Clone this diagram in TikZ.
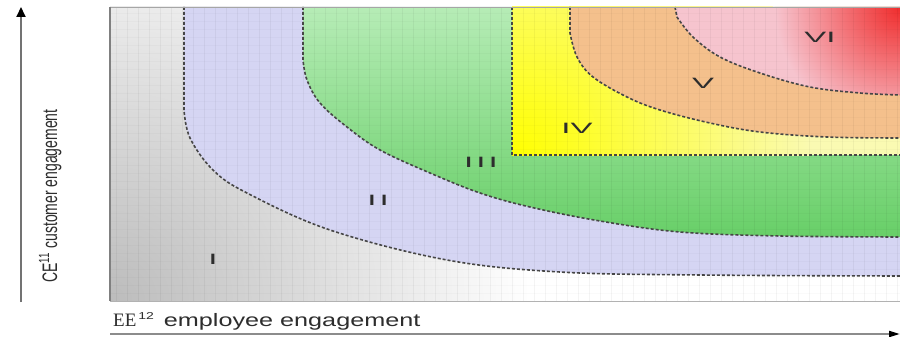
\documentclass[tikz,border=0pt]{standalone}
\usepackage{fontspec}
\setmainfont{Liberation Sans}
\newfontfamily\serifE{Liberation Serif}
\usetikzlibrary{arrows.meta}
\definecolor{bgA}{RGB}{188,188,188}
\definecolor{lav}{RGB}{213,213,243}
\definecolor{grnT}{RGB}{182,236,182}
\definecolor{grnB}{RGB}{104,207,104}
\definecolor{yelA}{RGB}{255,255,0}
\definecolor{yelB}{RGB}{250,250,178}
\definecolor{orn}{RGB}{244,192,140}
\definecolor{pnkA}{RGB}{240,45,45}
\definecolor{pnkB}{RGB}{246,196,206}
\definecolor{bdc}{RGB}{70,70,70}
\definecolor{lbl}{RGB}{45,45,45}
\newcommand\romlab[1]{\scalebox{2.2}[1]{\fontsize{15}{15}\selectfont #1}}
\begin{document}
\begin{tikzpicture}[x=1pt,y=-1pt,
  bdry/.style={draw=bdc,line width=1.6pt,dash pattern=on 3pt off 2pt},
  gridv/.style={draw=black,opacity=0.045,line width=0.8pt},
  gridh/.style={draw=black,opacity=0.02,line width=0.7pt},
  numlbl/.style={text=lbl,inner sep=0pt},
  axisline/.style={draw=black!55,line width=2pt}]
\useasboundingbox (0,0) rectangle (900,337);
\fill[white] (0,0) rectangle (900,337);
% background
\begin{scope}
  \clip (110,7) rectangle (900,301);
  \fill[white] (110,7) rectangle (900,301);
  \shade[inner color=bgA, outer color=white] (110,301) circle (420pt);
\end{scope}
% region II
\fill[lav] (184,7) -- plot[smooth,tension=0.6] coordinates {(184,110) (190,138) (213,170) (247,193) (330,230) (447,260) (560,272) (700,275) (900,276)} -- (900,7) -- cycle;
% region III
\shade[top color=grnT, bottom color=grnB] (303,7) -- plot[smooth,tension=0.6] coordinates {(303,60) (307,80) (320,103) (347,127) (380,150) (430,173) (480,193) (530,207) (600,221) (680,232) (780,236) (900,237)} -- (900,7) -- cycle;
% region IV
\begin{scope}
  \clip (512,7) rectangle (900,155);
  \fill[yelB] (512,7) rectangle (900,155);
  \shade[inner color=yelA, outer color=yelB] (512,155) circle (300pt);
\end{scope}
% region V
\fill[orn] (570,7) -- plot[smooth,tension=0.6] coordinates {(570,33) (577,57) (593,77) (627,97) (660,110) (710,123) (760,132) (827,137) (900,138)} -- (900,7) -- cycle;
% region VI
\begin{scope}
  \clip (675,7) -- plot[smooth,tension=0.6] coordinates {(677,17) (693,37) (720,57) (760,73) (810,87) (860,93) (900,95)} -- (900,7) -- cycle;
  \fill[pnkB] (675,7) rectangle (900,100);
  \shade[inner color=pnkA, outer color=pnkB] (900,7) circle (125pt);
\end{scope}
% grid texture
\foreach \gx in {116,127,...,900} \draw[gridv] (\gx,7) -- (\gx,301);
\foreach \gy in {13,21,...,300} \draw[gridh] (110,\gy) -- (900,\gy);
% dashed boundaries
\draw[bdry] (184,7) -- plot[smooth,tension=0.6] coordinates {(184,110) (190,138) (213,170) (247,193) (330,230) (447,260) (560,272) (700,275) (900,276)};
\draw[bdry] (303,7) -- plot[smooth,tension=0.6] coordinates {(303,60) (307,80) (320,103) (347,127) (380,150) (430,173) (480,193) (530,207) (600,221) (680,232) (780,236) (900,237)};
\draw[bdry] (512,7) -- (512,155) -- (900,155);
\draw[bdry] (570,7) -- plot[smooth,tension=0.6] coordinates {(570,33) (577,57) (593,77) (627,97) (660,110) (710,123) (760,132) (827,137) (900,138)};
\draw[bdry] (675,7) -- plot[smooth,tension=0.6] coordinates {(677,17) (693,37) (720,57) (760,73) (810,87) (860,93) (900,95)};
% frame
\draw[black!35,line width=0.8pt] (900,7) -- (110,7);
\draw[black!30,line width=1pt] (110,301) -- (900,301);
\draw[black!50,line width=1.6pt] (110,7) -- (110,301);
% labels
\node[numlbl] (nI) at (213,259) {\romlab{I}};
\node[numlbl] (nII) at (378,200) {\romlab{I\kern1.4pt I}};
\node[numlbl] (nIII) at (481,162) {\romlab{I\kern1.4pt I\kern1.4pt I}};
\node[numlbl] (nIV) at (577,128) {\romlab{IV}};
\node[numlbl] (nV) at (703,83) {\romlab{V}};
\node[numlbl] (nVI) at (820,37) {\romlab{VI}};
% axes
\coordinate (ybot) at (21,302);
\coordinate (ytop) at (21,7);
\coordinate (xleft) at (110,334);
\coordinate (xright) at (900,334);
\draw[axisline,-{Triangle[length=10pt,width=9pt,color=black]}] (ybot) -- (ytop);
\draw[axisline,draw=black!45,-{Triangle[length=11pt,width=6pt,color=black]}] (xleft) -- (xright);
\node[rotate=90,anchor=base,inner sep=0pt,text=lbl] (ylab) at (57,196)
  {\scalebox{1}[1.5]{\fontsize{14}{14}\selectfont CE\textsuperscript{11} customer engagement}};
\node[anchor=base west,inner sep=0pt,text=lbl] (xlab) at (113,326)
  {{\serifE\fontsize{19}{19}\selectfont EE}\kern2pt\raisebox{7pt}{\scalebox{1.4}[1]{\fontsize{10}{10}\selectfont 12}}\hspace{10pt}\scalebox{1.4}[1]{\fontsize{18}{18}\selectfont employee engagement}};
\end{tikzpicture}
\end{document}
